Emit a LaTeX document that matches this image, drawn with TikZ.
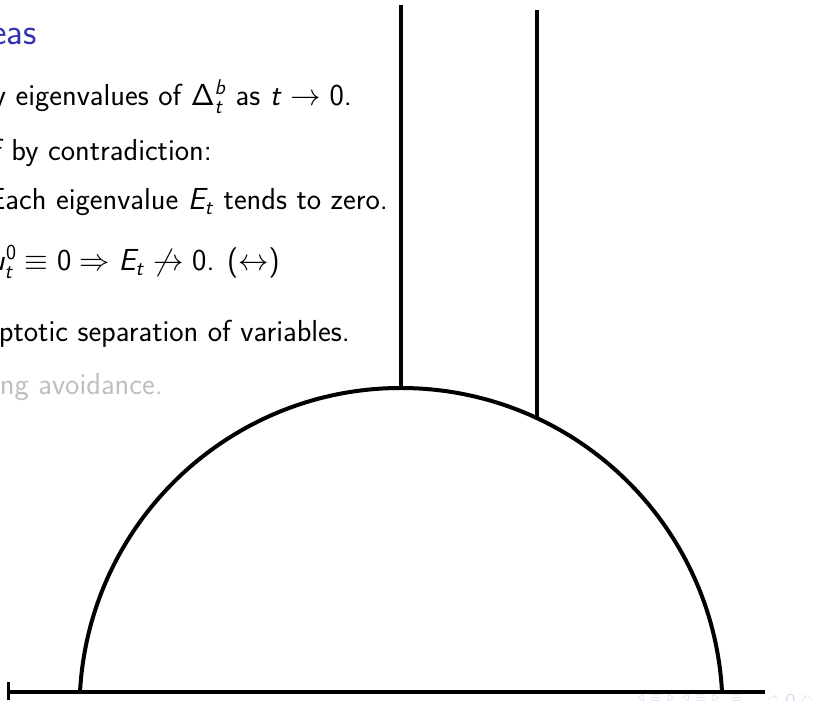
\RequirePackage{fix-cm}
\documentclass[tikz,border=0pt]{standalone}
\usepackage{amsmath,amssymb}
\usepackage{tikz}
\DeclareMathAlphabet{\mathsfit}{OT1}{cmss}{m}{sl}
\definecolor{titleblue}{rgb}{0.2,0.2,0.7}
\definecolor{navblue}{rgb}{0.80,0.80,0.93}
\tikzset{slidetext/.style={anchor=base east,inner sep=0pt,font=\fontsize{30.4}{36}\sffamily}}
\tikzset{sketch/.style={line width=4pt,black}}

\begin{document}
\begin{tikzpicture}[x=1pt,y=1pt]
	\useasboundingbox (0,0) rectangle (822,701);
	% slide behind the sketch
	\node[slidetext,text=titleblue,font=\fontsize{37}{44}\sffamily] (title) at (37,656) {eas};
	\node[slidetext] (many) at (352,595) {y eigenvalues of $\mathsf{\Delta}^{\mathsfit{b}}_{\mathsfit{t}}$ as $\mathsfit{t}\to\mathsf{0}$.};
	\node[slidetext] (proof) at (212,540) {f by contradiction:};
	\node[slidetext] (each) at (388,491) {Each eigenvalue $\mathsfit{E}_{\mathsfit{t}}$ tends to zero.};
	\node[slidetext] (zero) at (280,430) {$\mathsfit{u}^{\mathsf{0}}_{\mathsfit{t}}\equiv\mathsf{0}\Rightarrow\mathsfit{E}_{\mathsfit{t}}\not\to\mathsf{0}$. ($\leftrightarrow$)};
	\node[slidetext] (asym) at (350,359) {ptotic separation of variables.};
	\node[slidetext,text=black!25] (cross) at (163,306) {ng avoidance.};
	\node[anchor=north east,inner sep=0pt,text=navblue,font=\fontsize{14}{16}\selectfont] (navl) at (742,6) {$\triangleleft\,\equiv\,\triangleright\;\;\triangleleft\,\equiv\,\triangleright\;\;\equiv$};
	\node[anchor=north west,inner sep=0pt,text=navblue,font=\fontsize{14}{16}\selectfont] (navr) at (768,6) {$\circlearrowleft\,\mathsf{Q}\,\circlearrowright$};
	% sketch
	\coordinate (left end) at (8,9);
	\coordinate (right end) at (765,9);
	\coordinate (left foot) at (80,9);
	\coordinate (left top) at (401,696);
	\coordinate (left meet) at (401,313);
	\coordinate (right top) at (537,691);
	\coordinate (right meet) at (537,283);
	\draw[sketch] (left end) -- (right end);
	\draw[sketch,line width=3pt] ([yshift=-8pt]left end) -- ([yshift=10pt]left end);
	\draw[sketch] (left foot) arc[start angle=176.88,end angle=3.12,radius=321.5];
	\draw[sketch] (left top) -- (left meet);
	\draw[sketch] (right top) -- (right meet);
\end{tikzpicture}
\end{document}
